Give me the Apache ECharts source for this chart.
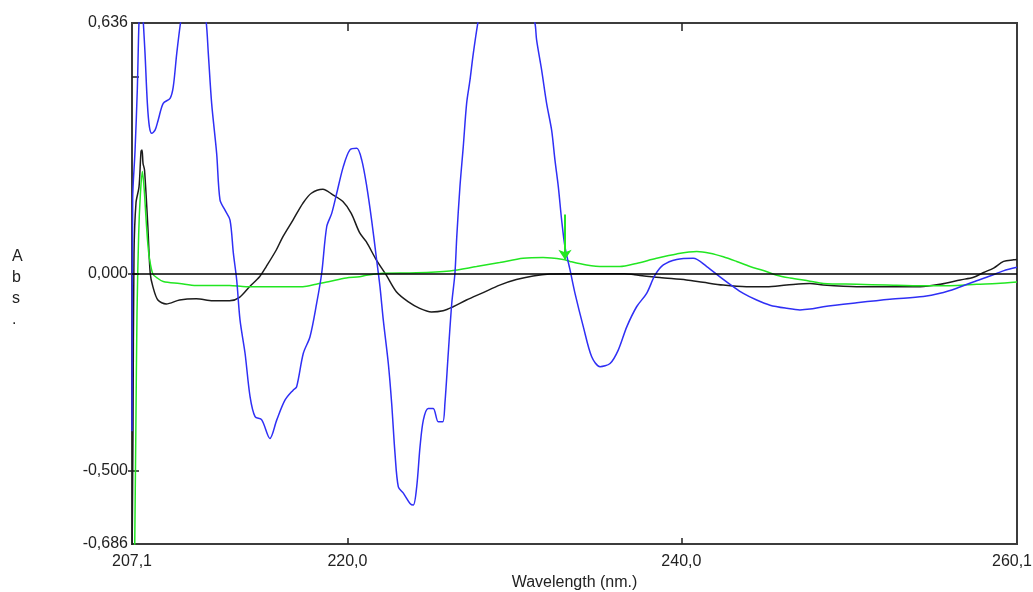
<!DOCTYPE html>
<html>
<head>
<meta charset="utf-8">
<script src="https://cdn.jsdelivr.net/npm/echarts@6/dist/echarts.min.js"></script>
<style>
  html, body { margin: 0; padding: 0; background: #fff; }
  #chart { width: 1033px; height: 592px; }
</style>
</head>
<body>
<div id="chart"></div>
<script>
// Axis ranges and tick labels
const wlMin = 207.1, wlMax = 260.1;
const absMin = -0.686, absMax = 0.636;
const xLabelValues = [207.1, 220.0, 240.0, 260.1];
const xTickValues = [220.0, 240.0];
const yLabelValues = [-0.686, -0.5, 0.0, 0.636];
const yTickValues = [-0.5, 0.0, 0.5];

// Blue spectrum (wavelength nm, absorbance)
const blueWl = [207.10,207.14,207.28,207.42,207.52,207.62,207.72,207.78,207.88,208.02,
  208.14,208.28,208.48,208.67,208.97,209.38,209.57,209.78,210.03,210.4,
  210.75,211.15,211.53,211.67,211.87,212.17,212.37,212.67,212.97,213.17,
  213.37,213.57,213.87,214.17,214.47,214.87,215.36,215.77,216.26,216.76,
  216.96,217.36,217.76,218.16,218.46,218.76,219.06,219.36,219.75,220.15,
  220.56,220.86,221.16,221.45,221.75,221.95,222.15,222.45,222.65,222.85,
  223.05,223.35,223.75,223.95,224.15,224.35,224.55,224.84,225.14,225.44,
  225.71,225.84,226.04,226.25,226.44,226.55,226.74,226.94,227.14,227.34,
  227.54,227.84,228.4,229.4,230.4,231.0,231.23,231.33,231.63,231.93,
  232.23,232.43,232.63,232.83,233.03,233.33,233.63,234.13,234.63,235.13,
  235.73,236.22,236.73,237.32,237.92,238.42,238.92,239.72,240.71,241.52,
  242.31,243.11,243.71,244.51,245.31,246.31,247.10,247.70,248.50,250.50,
  252.49,254.49,255.49,256.49,257.48,258.48,259.28,260.10];
const blueAbs = [-0.40,0.19,0.31,0.47,0.64,0.70,0.68,0.636,0.559,0.432,
  0.373,0.356,0.364,0.390,0.432,0.445,0.474,0.559,0.644,0.74,
  0.78,0.74,0.644,0.559,0.432,0.305,0.187,0.161,0.136,0.052,
  -0.016,-0.118,-0.202,-0.312,-0.363,-0.371,-0.418,-0.371,-0.321,-0.295,
  -0.287,-0.202,-0.160,-0.075,0.001,0.119,0.153,0.204,0.271,0.314,
  0.318,0.288,0.221,0.136,0.035,-0.033,-0.118,-0.228,-0.329,-0.456,
  -0.541,-0.557,-0.583,-0.587,-0.541,-0.439,-0.371,-0.342,-0.342,-0.376,
  -0.376,-0.329,-0.202,-0.075,0.001,0.094,0.221,0.323,0.432,0.491,
  0.559,0.644,0.78,0.86,0.78,0.66,0.636,0.593,0.517,0.432,
  0.364,0.288,0.221,0.136,0.068,0.010,-0.050,-0.135,-0.211,-0.236,
  -0.228,-0.194,-0.135,-0.084,-0.050,-0.004,0.022,0.036,0.039,0.018,
  -0.008,-0.033,-0.050,-0.067,-0.080,-0.088,-0.092,-0.090,-0.084,-0.074,
  -0.065,-0.058,-0.050,-0.037,-0.021,-0.006,0.007,0.016];

// Black spectrum
const blackWl = [207.10,207.16,207.22,207.34,207.52,207.64,207.70,207.76,207.85,208.05,
  208.19,208.35,208.65,209.15,209.95,210.95,211.94,212.94,213.54,214.14,
  214.74,215.14,215.74,216.14,216.74,217.34,217.84,218.53,219.13,219.73,
  220.23,220.73,221.13,221.73,222.33,222.93,223.63,224.33,225.03,225.73,
  226.33,227.13,228.13,229.12,230.12,231.12,232.12,233.5,235.0,236.6,
  237.2,238.7,240.3,241.3,242.5,243.9,245.1,246.3,247.7,248.5,
  250.5,252.3,254.3,255.5,256.7,257.5,258.1,258.7,259.3,259.9,260.1];
const blackAbs = [-0.75,-0.40,0.05,0.18,0.22,0.31,0.314,0.28,0.263,0.119,
  0.001,-0.033,-0.067,-0.077,-0.067,-0.064,-0.069,-0.069,-0.060,-0.033,
  -0.008,0.018,0.060,0.094,0.136,0.179,0.204,0.214,0.200,0.183,
  0.153,0.104,0.081,0.035,-0.004,-0.046,-0.071,-0.088,-0.097,-0.094,
  -0.084,-0.067,-0.048,-0.029,-0.015,-0.006,-0.001,0.0,0.0,0.0,
  -0.003,-0.010,-0.016,-0.022,-0.029,-0.033,-0.033,-0.029,-0.025,-0.029,
  -0.033,-0.033,-0.033,-0.027,-0.016,-0.009,0.003,0.014,0.031,0.035,0.036];

// Green spectrum
const greenWl = [207.25,207.33,207.40,207.50,207.60,207.72,207.82,207.94,208.04,208.14,
  208.34,208.58,208.97,209.95,210.95,212.94,213.93,215.93,217.33,218.13,
  218.93,219.93,220.73,221.13,222.13,224.13,226.13,227.73,229.12,230.52,
  231.72,232.92,233.33,234.32,235.32,236.31,237.31,238.51,239.72,240.92,
  241.71,242.51,243.31,244.11,244.91,245.71,246.51,247.70,248.50,250.50,
  252.29,254.49,256.49,257.68,258.88,260.10];
const greenAbs = [-0.75,-0.40,-0.10,0.10,0.20,0.259,0.22,0.14,0.08,0.04,
  0.0,-0.010,-0.020,-0.025,-0.030,-0.030,-0.033,-0.033,-0.033,-0.027,
  -0.020,-0.011,-0.008,-0.004,0.001,0.002,0.007,0.018,0.028,0.039,
  0.041,0.036,0.031,0.022,0.018,0.018,0.026,0.039,0.050,0.056,
  0.052,0.043,0.031,0.018,0.008,-0.004,-0.011,-0.019,-0.025,-0.027,
  -0.029,-0.031,-0.030,-0.027,-0.025,-0.021];

// Cursor arrow on the green trace
const cursorWl = 233.03;
const cursorFrom = 0.15;
const cursorTo = 0.035;

const FONT = '"Liberation Sans", Arial, sans-serif';
const TEXT = '#222';
const FRAME = '#3c3c3c';

const fmt = (v, d) => Number(v).toFixed(d).replace('.', ',');
const pairs = (xs, ys) => xs.slice(0, Math.min(xs.length, ys.length)).map((x, i) => [x, ys[i]]);

const chart = echarts.init(document.getElementById('chart'), null, { renderer: 'canvas' });

const lineSeries = (name, xs, ys, color, extra) => Object.assign({
  name: name,
  type: 'line',
  data: pairs(xs, ys),
  showSymbol: false,
  symbol: 'none',
  smooth: 0.3,
  clip: true,
  lineStyle: { color: color, width: 1.5 },
  itemStyle: { color: color },
  silent: true
}, extra || {});

chart.setOption({
  animation: false,
  backgroundColor: '#fff',
  textStyle: { fontFamily: FONT },
  grid: {
    left: 132, right: 16, top: 23, bottom: 48,
    outerBoundsMode: 'none', containLabel: false,
    show: true, borderColor: FRAME, borderWidth: 2, backgroundColor: 'transparent'
  },
  xAxis: [{
    type: 'value', min: wlMin, max: wlMax, position: 'bottom',
    axisLine: { show: true, onZero: false, lineStyle: { color: FRAME, width: 2 } },
    splitLine: { show: false },
    axisTick: { show: true, inside: true, length: 6, customValues: xTickValues, lineStyle: { color: TEXT, width: 1.5 } },
    axisLabel: {
      customValues: xLabelValues,
      // the last label is nudged left so it stays inside the page
      formatter: v => (Math.abs(v - wlMax) < 1e-9 ? '{m|' + fmt(v, 1) + '}' : fmt(v, 1)),
      rich: { m: { padding: [0, 10, 0, 0], fontSize: 16, color: TEXT, fontFamily: FONT } },
      margin: 10, color: TEXT, fontSize: 16, fontFamily: FONT
    },
    name: 'Wavelength (nm.)', nameLocation: 'middle', nameGap: 30,
    nameTextStyle: { color: TEXT, fontSize: 16, fontFamily: FONT }
  }, {
    type: 'value', min: wlMin, max: wlMax, position: 'top',
    axisLine: { show: false, onZero: false },
    splitLine: { show: false },
    axisTick: { show: true, inside: true, length: 8, customValues: xTickValues, lineStyle: { color: TEXT, width: 1.5 } },
    axisLabel: { show: false }
  }],
  yAxis: [{
    type: 'value', min: absMin, max: absMax, position: 'left',
    axisLine: { show: true, onZero: false, lineStyle: { color: FRAME, width: 2 } },
    splitLine: { show: false },
    axisTick: { show: true, inside: false, length: 4, customValues: [-0.5, 0.0], lineStyle: { color: TEXT, width: 1.5 } },
    axisLabel: { customValues: yLabelValues, formatter: v => fmt(v, 3), margin: 4, color: TEXT, fontSize: 16, fontFamily: FONT }
  }, {
    type: 'value', min: absMin, max: absMax, position: 'left',
    axisLine: { show: false, onZero: false },
    splitLine: { show: false },
    axisTick: { show: true, inside: true, length: 7, customValues: yTickValues, lineStyle: { color: TEXT, width: 1.5 } },
    axisLabel: { show: false }
  }],
  graphic: [{
    type: 'text', left: 12, top: 246, silent: true,
    style: { text: 'A\nb\ns\n.', font: '16px ' + FONT, lineHeight: 21, fill: TEXT }
  }],
  series: [
    lineSeries('Black', blackWl, blackAbs, '#1c1c1c', {
      markLine: {
        silent: true, symbol: 'none', animation: false,
        label: { show: false },
        lineStyle: { color: '#000', width: 1.5, type: 'solid' },
        data: [{ yAxis: 0 }]
      }
    }),
    lineSeries('Green', greenWl, greenAbs, '#22e622', {
      markLine: {
        silent: true, symbol: ['none', 'arrow'], symbolSize: 10, animation: false,
        label: { show: false },
        lineStyle: { color: '#22e622', width: 2, type: 'solid' },
        data: [[{ coord: [cursorWl, cursorFrom] }, { coord: [cursorWl, cursorTo] }]]
      }
    }),
    lineSeries('Blue', blueWl, blueAbs, '#2f2ff5')
  ]
});
</script>
</body>
</html>
